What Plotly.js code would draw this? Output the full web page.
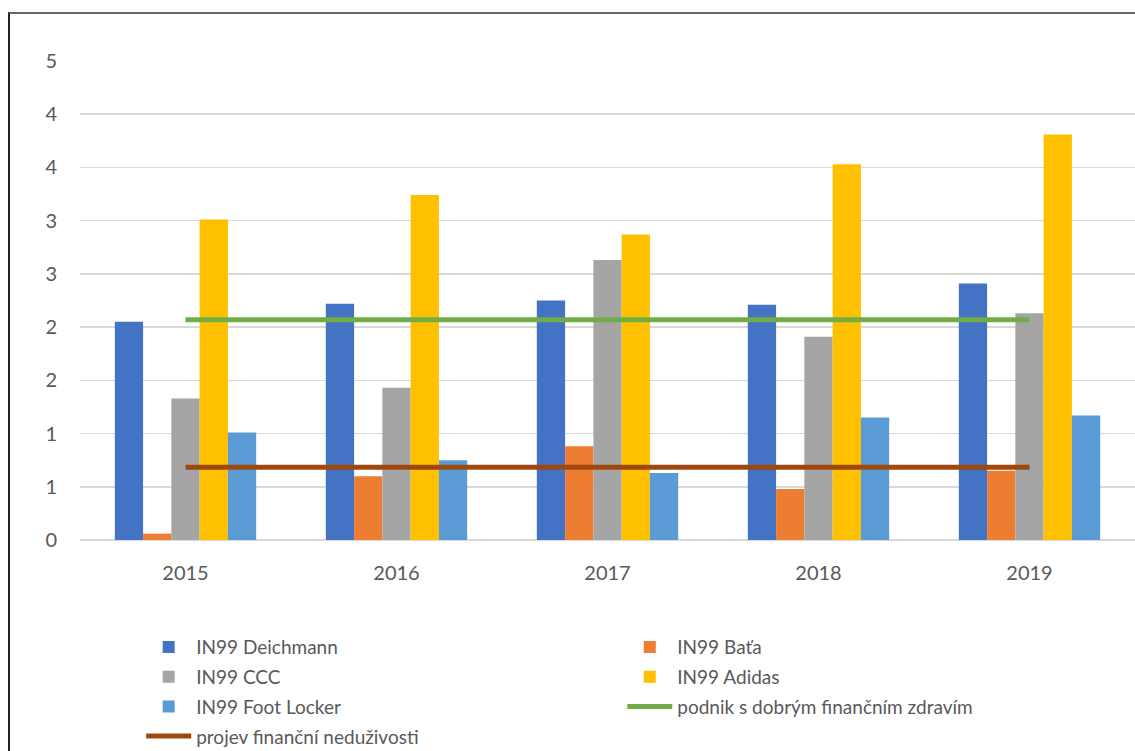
<!DOCTYPE html>
<html>
<head>
<meta charset="utf-8">
<script src="https://cdn.plot.ly/plotly-3.0.1.min.js"></script>
<style>
	body { margin: 0; background: #fff; }
	#chart { width: 1135px; height: 751px; }
	/* frame of the original picture, only left and top edges are visible */
	.frame { position: absolute; left: 8px; top: 12px; width: 1140px; height: 760px;
		border-left: 2px solid #222; border-top: 2px solid #666; pointer-events: none; }
</style>
</head>
<body>
<div id="chart"></div>
<div class="frame"></div>
<script>
const years = ["2015", "2016", "2017", "2018", "2019"]

// IN99 values
const deichmann = [2.05, 2.22, 2.25, 2.21, 2.41]
const bata = [0.06, 0.60, 0.88, 0.48, 0.65]
const ccc = [1.33, 1.43, 2.63, 1.91, 2.13]
const adidas = [3.01, 3.24, 2.87, 3.53, 3.81]
const footLocker = [1.01, 0.75, 0.63, 1.15, 1.17]

// thresholds of the IN99 model
const goodHealth = [2.07, 2.07, 2.07, 2.07, 2.07]
const distress = [0.684, 0.684, 0.684, 0.684, 0.684]

const yTicks = [0, 0.5, 1, 1.5, 2, 2.5, 3, 3.5, 4, 4.5]
const yTickText = ["0", "1", "1", "2", "2", "3", "3", "4", "4", "5"]

const font = "Lato, 'Open Sans', sans-serif"
const grey = "#595959"

function barTrace(name, values, color, legend) {
	return {
		type: "bar", name: name, x: years, y: values,
		marker: { color: color },
		legend: legend, legendgroup: name,
		hoverinfo: "skip"
	}
}

function lineTrace(name, values, color, legend) {
	return {
		type: "scatter", mode: "lines", name: name, x: years, y: values,
		line: { color: color, width: 5 },
		legend: legend, legendgroup: name,
		hoverinfo: "skip"
	}
}

const data = [
	barTrace("IN99 Deichmann", deichmann, "#4472C4", "legend"),
	barTrace("IN99 Baťa", bata, "#ED7D31", "legend2"),
	barTrace("IN99 CCC", ccc, "#A5A5A5", "legend"),
	barTrace("IN99 Adidas", adidas, "#FFC000", "legend2"),
	barTrace("IN99 Foot Locker", footLocker, "#5B9BD5", "legend"),
	lineTrace("podnik s dobrým finančním zdravím", goodHealth, "#70AD47", "legend2"),
	lineTrace("projev finanční neduživosti", distress, "#9E480E", "legend")
]

const legendBase = {
	orientation: "v",
	yanchor: "top", y: -0.184,
	xanchor: "left",
	bgcolor: "rgba(0,0,0,0)",
	font: { family: font, size: 19, color: grey },
	tracegroupgap: 2,
	traceorder: "grouped",
	itemwidth: 45
}

const layout = {
	width: 1135, height: 751,
	margin: { l: 80, r: 0, t: 61, b: 211, autoexpand: false },
	paper_bgcolor: "#fff", plot_bgcolor: "#fff",
	barmode: "group", bargap: 0.33, bargroupgap: 0,
	font: { family: font, size: 19, color: grey },
	xaxis: {
		type: "category",
		showgrid: false, showline: false, zeroline: false,
		ticks: "", ticklabelstandoff: 19,
		tickfont: { family: font, size: 20, color: grey }
	},
	yaxis: {
		range: [0, 4.5],
		tickvals: yTicks, ticktext: yTickText,
		showgrid: true, gridcolor: "#D9D9D9", gridwidth: 1.5,
		zeroline: true, zerolinecolor: "#D9D9D9", zerolinewidth: 1.5,
		showline: false, ticks: "", ticklabelstandoff: 22,
		tickfont: { family: font, size: 20, color: grey }
	},
	legend: Object.assign({}, legendBase, { x: 0.058 }),
	legend2: Object.assign({}, legendBase, { x: 0.514 }),
	showlegend: true
}

Plotly.newPlot("chart", data, layout, { displayModeBar: false, staticPlot: true })
</script>
</body>
</html>
